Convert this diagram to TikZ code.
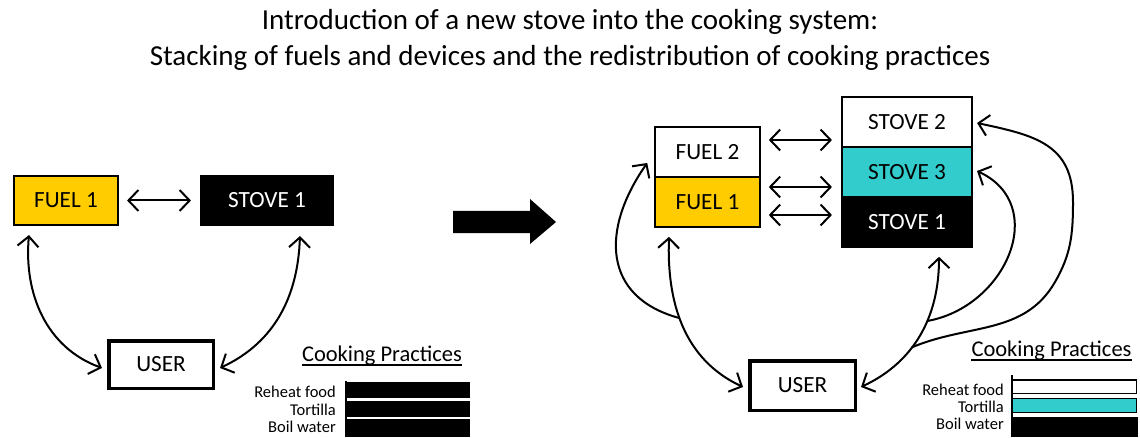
\documentclass[tikz,border=0pt]{standalone}
\usepackage{fontspec}
\setmainfont{Carlito}
\usetikzlibrary{arrows.meta,calc}
\definecolor{fuelyellow}{HTML}{FFCC00}
\definecolor{tealthree}{HTML}{33CCCC}
\begin{document}
\begin{tikzpicture}[x=1pt,y=1pt,
  box/.style={draw=black,line width=1.6pt,minimum height=50pt,inner sep=0pt,
    font=\fontsize{23.2}{27}\selectfont},
  userbox/.style={box,line width=3.5pt},
  titletext/.style={inner sep=0pt,font=\fontsize{29}{34}\selectfont},
  cptext/.style={inner sep=0pt,font=\fontsize{22.5}{26}\selectfont},
  labtext/.style={inner sep=0pt,font=\fontsize{16.5}{19}\selectfont},
  tipbarb/.tip={Straight Barb[length=10pt,width=21pt]},
  dbl/.style={{tipbarb}-{tipbarb},line width=2pt},
  single/.style={-{tipbarb},line width=2pt}
]
\useasboundingbox (0,0) rectangle (1140,437);

% Title
\node[titletext,anchor=base] (t1) at (570,407) {Introduction of a new stove into the cooking system:};
\node[titletext,anchor=base] (t2) at (570,371) {Stacking of fuels and devices and the redistribution of cooking practices};

% ---------- Left panel ----------
\node[box,fill=fuelyellow,minimum width=104.5pt,minimum height=49.5pt] (fuelL) at (66,236.5) {FUEL 1};
\node[box,fill=black,text=white,minimum width=132.5pt,minimum height=49.5pt] (stoveL) at (267,236.5) {STOVE 1};
\node[userbox,minimum width=104.5pt,minimum height=47.5pt] (userL) at (161,72.5) {USER};

\draw[dbl,shorten <=8pt,shorten >=9pt] (fuelL) -- (stoveL);
\coordinate (fLtip) at ([xshift=16pt,yshift=-9pt]fuelL.south west);
\coordinate (uLLtip) at ([xshift=-5pt,yshift=-3.5pt]userL.west);
\coordinate (sLtip) at ([xshift=100pt,yshift=-10pt]stoveL.south west);
\coordinate (uLRtip) at ([xshift=5pt,yshift=-3.5pt]userL.east);
\draw[dbl] (fLtip) to[out=-95,in=160] (uLLtip);
\draw[dbl] (sLtip) to[out=-92,in=25] (uLRtip);

% Cooking practices (left)
\node[cptext,anchor=base] (cpL) at (382,76) {Cooking Practices};
\draw[line width=1.3pt] ([yshift=-4pt]cpL.base west) -- ([yshift=-4pt]cpL.base east);
\node[labtext,anchor=base east] (lr1) at (336,40) {Reheat food};
\node[labtext,anchor=base east] (lr2) at (336,22) {Tortilla};
\node[labtext,anchor=base east] (lr3) at (336,5) {Boil water};
\fill (346,39) rectangle (470,55);
\fill (346,20) rectangle (470,36);
\fill (346,0) rectangle (470,18);
\draw[line width=1.5pt] (346,56) -- (346,0);

% Big arrow
\fill (453,204) -- (530,204) -- (530,193) -- (556,215) -- (530,238) -- (530,226) -- (453,226) -- cycle;

% ---------- Right panel ----------
\node[box,minimum width=105pt] (fuel2) at (707.5,285) {FUEL 2};
\node[box,fill=fuelyellow,minimum width=105pt] (fuel1R) at (707.5,235) {FUEL 1};
\node[box,minimum width=130.5pt] (stove2) at (907,315) {STOVE 2};
\node[box,fill=tealthree,minimum width=130.5pt] (stove3) at (907,265) {STOVE 3};
\node[box,fill=black,text=white,minimum width=130.5pt] (stove1R) at (907,215) {STOVE 1};
\node[userbox,minimum width=105.5pt,minimum height=49.5pt] (userR) at (802.5,51.5) {USER};

\draw[dbl,shorten <=8pt,shorten >=9pt] (fuel2.east |- 0,297) -- (stove2.west |- 0,297);
\draw[dbl,shorten <=8pt,shorten >=9pt] (fuel1R.east |- 0,250) -- (stove3.west |- 0,250);
\draw[dbl,shorten <=8pt,shorten >=9pt] (fuel1R.east |- 0,222) -- (stove1R.west |- 0,222);

\coordinate (f1tip) at ([xshift=-38.5pt,yshift=-9pt]fuel1R.south);
\coordinate (uRLtip) at ([xshift=-5pt,yshift=-1.5pt]userR.west);
\coordinate (f2tip) at ([xshift=-7pt,yshift=-11pt]fuel2.west);
\coordinate (s1tip) at ([xshift=32pt,yshift=-9pt]stove1R.south);
\coordinate (uRRtip) at ([xshift=4pt,yshift=-1.5pt]userR.east);
\coordinate (s3tip) at ([xshift=4pt,yshift=1pt]stove3.east);
\coordinate (s2tip) at ([xshift=4pt,yshift=-1pt]stove2.east);

\draw[dbl] (f1tip) to[out=-92,in=155] coordinate[pos=0.45] (b1) (uRLtip);
\draw[single] (b1) to[out=165,in=235,looseness=1.3] (f2tip);
\draw[dbl] (s1tip) to[out=-90,in=25] coordinate[pos=0.4] (b2) coordinate[pos=0.6] (b3) (uRRtip);
\draw[single] (b2) to[out=10,in=-25,looseness=1.3] (s3tip);
\draw[single] (b3) to[out=23,in=-120] (1055,155) to[out=60,in=-90] (1073,235)
  to[out=90,in=-12,looseness=1.2] (s2tip);

% Cooking practices (right)
\node[cptext,anchor=base] (cpR) at (1051.5,81) {Cooking Practices};
\draw[line width=1.3pt] ([yshift=-4pt]cpR.base west) -- ([yshift=-4pt]cpR.base east);
\node[labtext,anchor=base east] (rr1) at (1004,42) {Reheat food};
\node[labtext,anchor=base east] (rr2) at (1004,25) {Tortilla};
\node[labtext,anchor=base east] (rr3) at (1004,8) {Boil water};
\draw[line width=1.3pt] (1012,43.5) rectangle (1136.5,57);
\filldraw[fill=tealthree,line width=1.3pt] (1012,24.5) rectangle (1136.5,38.5);
\fill (1012,0) rectangle (1138,20);
\draw[line width=1.5pt] (1012,62) -- (1012,0);
\end{tikzpicture}
\end{document}
